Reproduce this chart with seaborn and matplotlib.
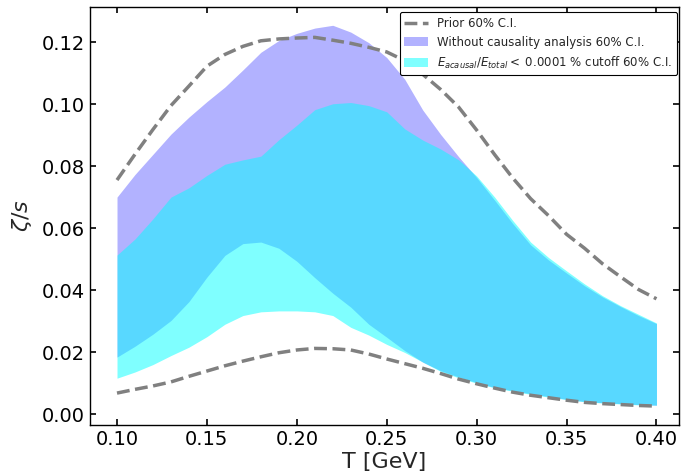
import numpy as np
import pandas as pd
import matplotlib
matplotlib.use('Agg')
import matplotlib.pyplot as plt
import seaborn as sns
from matplotlib.patches import Patch
from matplotlib.lines import Line2D

# temperature grid [GeV]
T = [0.10, 0.11, 0.12, 0.13, 0.14, 0.15, 0.16, 0.17, 0.18, 0.19, 0.20,
     0.21, 0.22, 0.23, 0.24, 0.25, 0.26, 0.27, 0.28, 0.29, 0.30,
     0.31, 0.32, 0.33, 0.34, 0.35, 0.36, 0.37, 0.38, 0.39, 0.40]

prior_hi = [0.0755, 0.0838, 0.0918, 0.0995, 0.1058, 0.1122, 0.1160, 0.1186, 0.1204, 0.1210, 0.1213,
            0.1215, 0.1206, 0.1196, 0.1183, 0.1168, 0.1140, 0.1096, 0.1047, 0.0990, 0.0916,
            0.0837, 0.0762, 0.0695, 0.0640, 0.0580, 0.0535, 0.0485, 0.0443, 0.0402, 0.0372]
prior_lo = [0.0068, 0.0080, 0.0091, 0.0104, 0.0122, 0.0139, 0.0156, 0.0171, 0.0185, 0.0198, 0.0207,
            0.0212, 0.0211, 0.0207, 0.0194, 0.0178, 0.0163, 0.0148, 0.0131, 0.0113, 0.0098,
            0.0084, 0.0071, 0.0061, 0.0053, 0.0045, 0.0038, 0.0034, 0.0031, 0.0028, 0.0026]

# without causality analysis
nocaus_hi = [0.0700, 0.0773, 0.0838, 0.0903, 0.0958, 0.1008, 0.1055, 0.1110, 0.1167, 0.1205, 0.1228,
             0.1245, 0.1254, 0.1232, 0.1198, 0.1150, 0.1080, 0.0981, 0.0902, 0.0830, 0.0763,
             0.0690, 0.0615, 0.0546, 0.0497, 0.0455, 0.0414, 0.0378, 0.0347, 0.0318, 0.0292]
nocaus_lo = [0.0184, 0.0219, 0.0258, 0.0302, 0.0363, 0.0442, 0.0512, 0.0550, 0.0555, 0.0535, 0.0493,
             0.0440, 0.0390, 0.0345, 0.0290, 0.0248, 0.0205, 0.0168, 0.0140, 0.0120, 0.0102,
             0.0086, 0.0076, 0.0066, 0.0057, 0.0048, 0.0041, 0.0037, 0.0034, 0.0031, 0.0029]

# E_acausal/E_total cutoff
cut_hi = [0.0513, 0.0565, 0.0630, 0.0700, 0.0730, 0.0770, 0.0806, 0.0820, 0.0832, 0.0885, 0.0932,
          0.0982, 0.1001, 0.1005, 0.0995, 0.0975, 0.0920, 0.0884, 0.0855, 0.0820, 0.0768,
          0.0700, 0.0625, 0.0555, 0.0505, 0.0462, 0.0420, 0.0382, 0.0350, 0.0322, 0.0294]
cut_lo = [0.0116, 0.0136, 0.0160, 0.0189, 0.0216, 0.0250, 0.0290, 0.0318, 0.0330, 0.0333, 0.0333,
          0.0330, 0.0318, 0.0280, 0.0255, 0.0225, 0.0199, 0.0168, 0.0138, 0.0117, 0.0100,
          0.0085, 0.0074, 0.0064, 0.0055, 0.0047, 0.0040, 0.0036, 0.0033, 0.0030, 0.0029]

labels = ['Prior 60% C.I.',
          'Without causality analysis 60% C.I.',
          r'$E_{acausal}/E_{total} <$ 0.0001 % cutoff 60% C.I.']

sns.set_style('ticks')
plt.rcParams['font.family'] = ['DejaVu Sans']
plt.rcParams['xtick.direction'] = 'in'
plt.rcParams['ytick.direction'] = 'in'
plt.rcParams['xtick.top'] = True
plt.rcParams['ytick.right'] = True

df = pd.DataFrame({'T': T, 'prior_hi': prior_hi, 'prior_lo': prior_lo})

fig = plt.figure(figsize=(6.81, 4.76), dpi=100)
ax = fig.add_axes([0.1322, 0.1071, 0.8648, 0.8782])

ax.fill_between(T, nocaus_lo, nocaus_hi, color='blue', alpha=0.3, linewidth=0)
ax.fill_between(T, cut_lo, cut_hi, color='cyan', alpha=0.5, linewidth=0)
for col in ['prior_hi', 'prior_lo']:
    sns.lineplot(data=df, x='T', y=col, ax=ax, color='gray', linestyle='--',
                 linewidth=2.5, zorder=5)

ax.set_xlim(0.085, 0.4125)
ax.set_ylim(-0.0035, 0.1313)
ax.set_xticks([0.10, 0.15, 0.20, 0.25, 0.30, 0.35, 0.40])
ax.set_yticks([0.00, 0.02, 0.04, 0.06, 0.08, 0.10, 0.12])
ax.xaxis.set_major_formatter(matplotlib.ticker.FormatStrFormatter('%.2f'))
ax.yaxis.set_major_formatter(matplotlib.ticker.FormatStrFormatter('%.2f'))
ax.tick_params(axis='both', labelsize=14, length=4, width=1.2, colors='black')
for s in ax.spines.values():
    s.set_color('black')
    s.set_linewidth(1.0)

ax.set_xlabel('T [GeV]', fontsize=16, labelpad=2)
ax.set_ylabel(r'$\zeta/s$', fontsize=16, labelpad=6)

handles = [Line2D([0], [0], color='gray', linestyle='--', linewidth=2.5),
           Patch(facecolor='blue', alpha=0.3, edgecolor='none'),
           Patch(facecolor='cyan', alpha=0.5, edgecolor='none')]
leg = ax.legend(handles, labels, loc='upper right', fontsize=8.5, framealpha=1,
                edgecolor='black', bbox_to_anchor=(0.997, 0.988), borderaxespad=0.0)
leg.get_frame().set_linewidth(0.8)

fig.savefig('out.png', dpi=100)
